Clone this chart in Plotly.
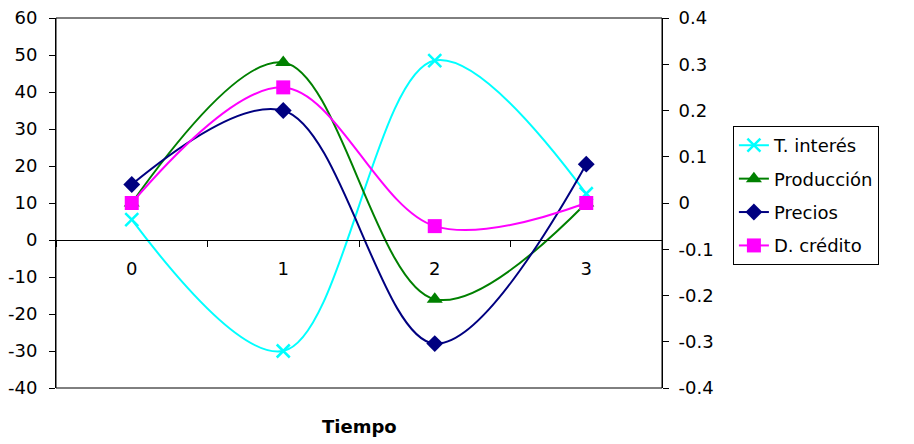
import plotly.graph_objects as go

categories = ["0", "1", "2", "3"]
t_interes = [5.5, -30, 48.5, 12.5]
produccion = [10, 48, -16, 10]
precios = [15, 35, -28, 20.5]
d_credito = [0, 0.25, -0.05, 0]

left_ticks = [60, 50, 40, 30, 20, 10, 0, -10, -20, -30, -40]
left_labels = ["60", "50", "40", "30", "20", "10", "0", "-10", "-20", "-30", "-40"]
right_ticks = [0.4, 0.3, 0.2, 0.1, 0, -0.1, -0.2, -0.3, -0.4]
right_labels = ["0.4", "0.3", "0.2", "0.1", "0", "-0.1", "-0.2", "-0.3", "-0.4"]

FONT = "DejaVu Sans"

fig = go.Figure()
fig.add_trace(go.Scatter(
    x=categories, y=t_interes, name="T. interés", mode="lines+markers", legendgroup="a",
    line=dict(color="#00FFFF", width=2, shape="spline", smoothing=1),
    marker=dict(symbol="x-thin-open", size=13, color="#00FFFF", line=dict(color="#00FFFF", width=2.5)),
))
fig.add_trace(go.Scatter(
    x=categories, y=produccion, name="Producción", mode="lines+markers", legendgroup="b",
    line=dict(color="#008000", width=2, shape="spline", smoothing=1),
    marker=dict(symbol="triangle-up", size=14, color="#008000"),
))
fig.add_trace(go.Scatter(
    x=categories, y=precios, name="Precios", mode="lines+markers", legendgroup="c",
    line=dict(color="#000080", width=2, shape="spline", smoothing=1),
    marker=dict(symbol="diamond", size=13, color="#000080"),
))
fig.add_trace(go.Scatter(
    x=categories, y=d_credito, name="D. crédito", mode="lines+markers", yaxis="y2", legendgroup="d",
    line=dict(color="#FF00FF", width=2, shape="spline", smoothing=1),
    marker=dict(symbol="square", size=14, color="#FF00FF"),
))

fig.update_layout(
    width=906, height=436,
    margin=dict(l=48, r=252, t=10, b=56, autoexpand=False),
    paper_bgcolor="white", plot_bgcolor="white",
    font=dict(family=FONT, size=18, color="black"),
    showlegend=True,
    legend=dict(
        x=1.117, y=0.708, xanchor="left", yanchor="top",
        bordercolor="black", borderwidth=1, bgcolor="white",
        font=dict(family=FONT, size=18, color="black"),
        tracegroupgap=7, entrywidth=125, entrywidthmode="pixels",
    ),
    xaxis=dict(
        type="category", categoryorder="array", categoryarray=categories,
        range=[-0.5, 3.5], anchor="free", position=0.4, automargin=False,
        showline=True, linecolor="black", linewidth=1,
        ticks="outside", tickson="boundaries", ticklen=6, tickcolor="black",
        ticklabelstandoff=12, showgrid=False, zeroline=False,
    ),
    yaxis=dict(
        range=[-40, 60], tickvals=left_ticks, ticktext=left_labels, automargin=False,
        showline=True, linecolor="black", linewidth=1, mirror=False,
        ticks="outside", ticklen=6, tickcolor="black", ticklabeloverflow="allow",
        ticklabelstandoff=8, showgrid=False, zeroline=False,
    ),
    yaxis2=dict(
        range=[-0.4, 0.4], tickvals=right_ticks, ticktext=right_labels, automargin=False,
        overlaying="y", side="right", anchor="x",
        showline=True, linecolor="black", linewidth=1,
        ticks="outside", ticklen=6, tickcolor="black", ticklabeloverflow="allow",
        ticklabelstandoff=6, showgrid=False, zeroline=False,
    ),
    shapes=[dict(type="rect", xref="paper", yref="paper", x0=0, x1=1, y0=0, y1=1,
                 line=dict(color="black", width=1), fillcolor="rgba(0,0,0,0)", layer="below")],
    annotations=[dict(text="<b>Tiempo</b>", xref="paper", yref="paper", x=0.5, y=0,
                      yshift=-38, yanchor="middle", showarrow=False,
                      font=dict(family=FONT, size=18, color="black"))],
)

fig.write_html("out.html")
